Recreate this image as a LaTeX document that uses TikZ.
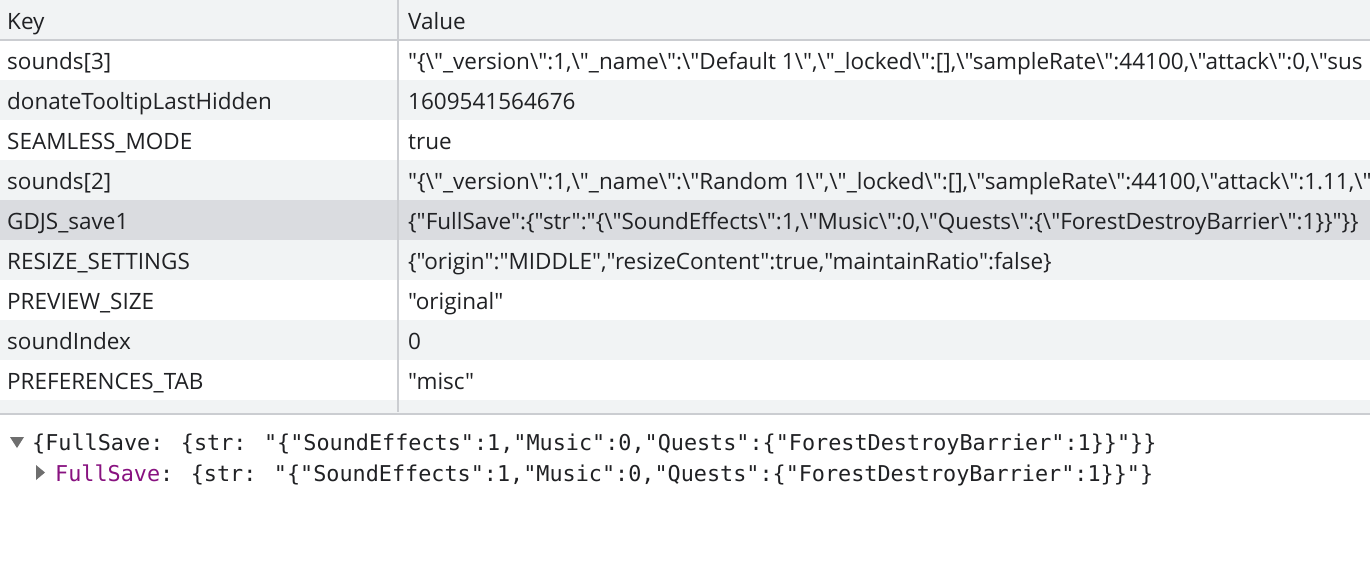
\documentclass[tikz,border=0pt]{standalone}
\usepackage{fontspec}
\setmainfont{Open Sans}[Ligatures=TeXOff]
\newfontfamily\consolefont{DejaVu Sans Mono}[Ligatures=TeXOff]
\definecolor{stripe}{HTML}{F1F3F4}
\definecolor{selrow}{HTML}{DADCE0}
\definecolor{rule}{HTML}{CBCDD1}
\definecolor{ink}{HTML}{202124}
\definecolor{propkey}{HTML}{881280}
\definecolor{twisty}{HTML}{6E6E6E}
\newcommand\bq{\textbackslash"}
\tikzset{
    keytxt/.style = {anchor=base west,
                    inner sep=0pt,
                    text=ink,
                    font=\fontsize{22.5}{26}\selectfont},
    valtxt/.style = {keytxt},
    logtxt/.style = {anchor=base west,
                    inner sep=0pt,
                    text=ink,
                    font=\consolefont\fontsize{21.8}{26}\selectfont},
    striped/.style = {fill=stripe},
    -,
    divider/.style = {draw=rule, line width=2pt}}

\begin{document}
\begin{tikzpicture}[x=1pt,y=-1pt]
                \clip (0,0) rectangle (1370,587);
                \fill[white] (0,0) rectangle (1370,587);
                % header and row stripes
                \fill[stripe]  (0,0)   rectangle (1370,40);
                \fill[stripe]  (0,80)  rectangle (1370,120);
                \fill[stripe]  (0,160) rectangle (1370,200);
                \fill[selrow]  (0,200) rectangle (1370,240);
                \fill[stripe]  (0,240) rectangle (1370,280);
                \fill[stripe]  (0,320) rectangle (1370,360);
                \fill[stripe]  (0,400) rectangle (1370,413);
                \draw[divider] (0,40)  -- (1370,40);
                \draw[divider] (398,0) -- (398,412);
                \draw[divider] (0,414) -- (1370,414);

                \node[keytxt]   (hk) at (7,29)      {Key};
                \node[valtxt]   (hv) at (408,29)    {Value};

                \node[keytxt]   (k1) at (7,69)      {sounds[3]};
                \node[keytxt]   (k2) at (7,109)     {donateTooltipLastHidden};
                \node[keytxt]   (k3) at (7,149)     {SEAMLESS\_MODE};
                \node[keytxt]   (k4) at (7,189)     {sounds[2]};
                \node[keytxt]   (k5) at (7,229)     {GDJS\_save1};
                \node[keytxt]   (k6) at (7,269)     {RESIZE\_SETTINGS};
                \node[keytxt]   (k7) at (7,309)     {PREVIEW\_SIZE};
                \node[keytxt]   (k8) at (7,349)     {soundIndex};
                \node[keytxt]   (k9) at (7,389)     {PREFERENCES\_TAB};

                \node[valtxt]   (v1) at (408,69)    {"\{\bq\_version\bq:1,\bq\_name\bq:\bq Default 1\bq,\bq\_locked\bq:[],\bq sampleRate\bq:44100,\bq attack\bq:0,\bq sus};
                \node[valtxt]   (v2) at (408,109)   {1609541564676};
                \node[valtxt]   (v3) at (408,149)   {true};
                \node[valtxt]   (v4) at (408,189)   {"\{\bq\_version\bq:1,\bq\_name\bq:\bq Random 1\bq,\bq\_locked\bq:[],\bq sampleRate\bq:44100,\bq attack\bq:1.11,\bq};
                \node[valtxt]   (v5) at (408,229)   {\{"FullSave":\{"str":"\{\bq SoundEffects\bq:1,\bq Music\bq:0,\bq Quests\bq:\{\bq ForestDestroyBarrier\bq:1\}\}"\}\}};
                \node[valtxt]   (v6) at (408,269)   {\{"origin":"MIDDLE","resizeContent":true,"maintainRatio":false\}};
                \node[valtxt]   (v7) at (408,309)   {"original"};
                \node[valtxt]   (v8) at (408,349)   {0};
                \node[valtxt]   (v9) at (408,389)   {"misc"};

                % console preview
                \fill[twisty] (10,437) -- (24,437) -- (17,448) -- cycle;
                \fill[twisty] (36,465) -- (36,480) -- (45,472.5) -- cycle;
                \node[logtxt]   (l1) at (32,450)    {\{FullSave: \{str: "\{"SoundEffects":1,"Music":0,"Quests":\{"ForestDestroyBarrier":1\}\}"\}\}};
                \node[logtxt]   (l2) at (55,481)    {{\color{propkey}FullSave}: \{str: "\{"SoundEffects":1,"Music":0,"Quests":\{"ForestDestroyBarrier":1\}\}"\}};
        \end{tikzpicture}
\end{document}
